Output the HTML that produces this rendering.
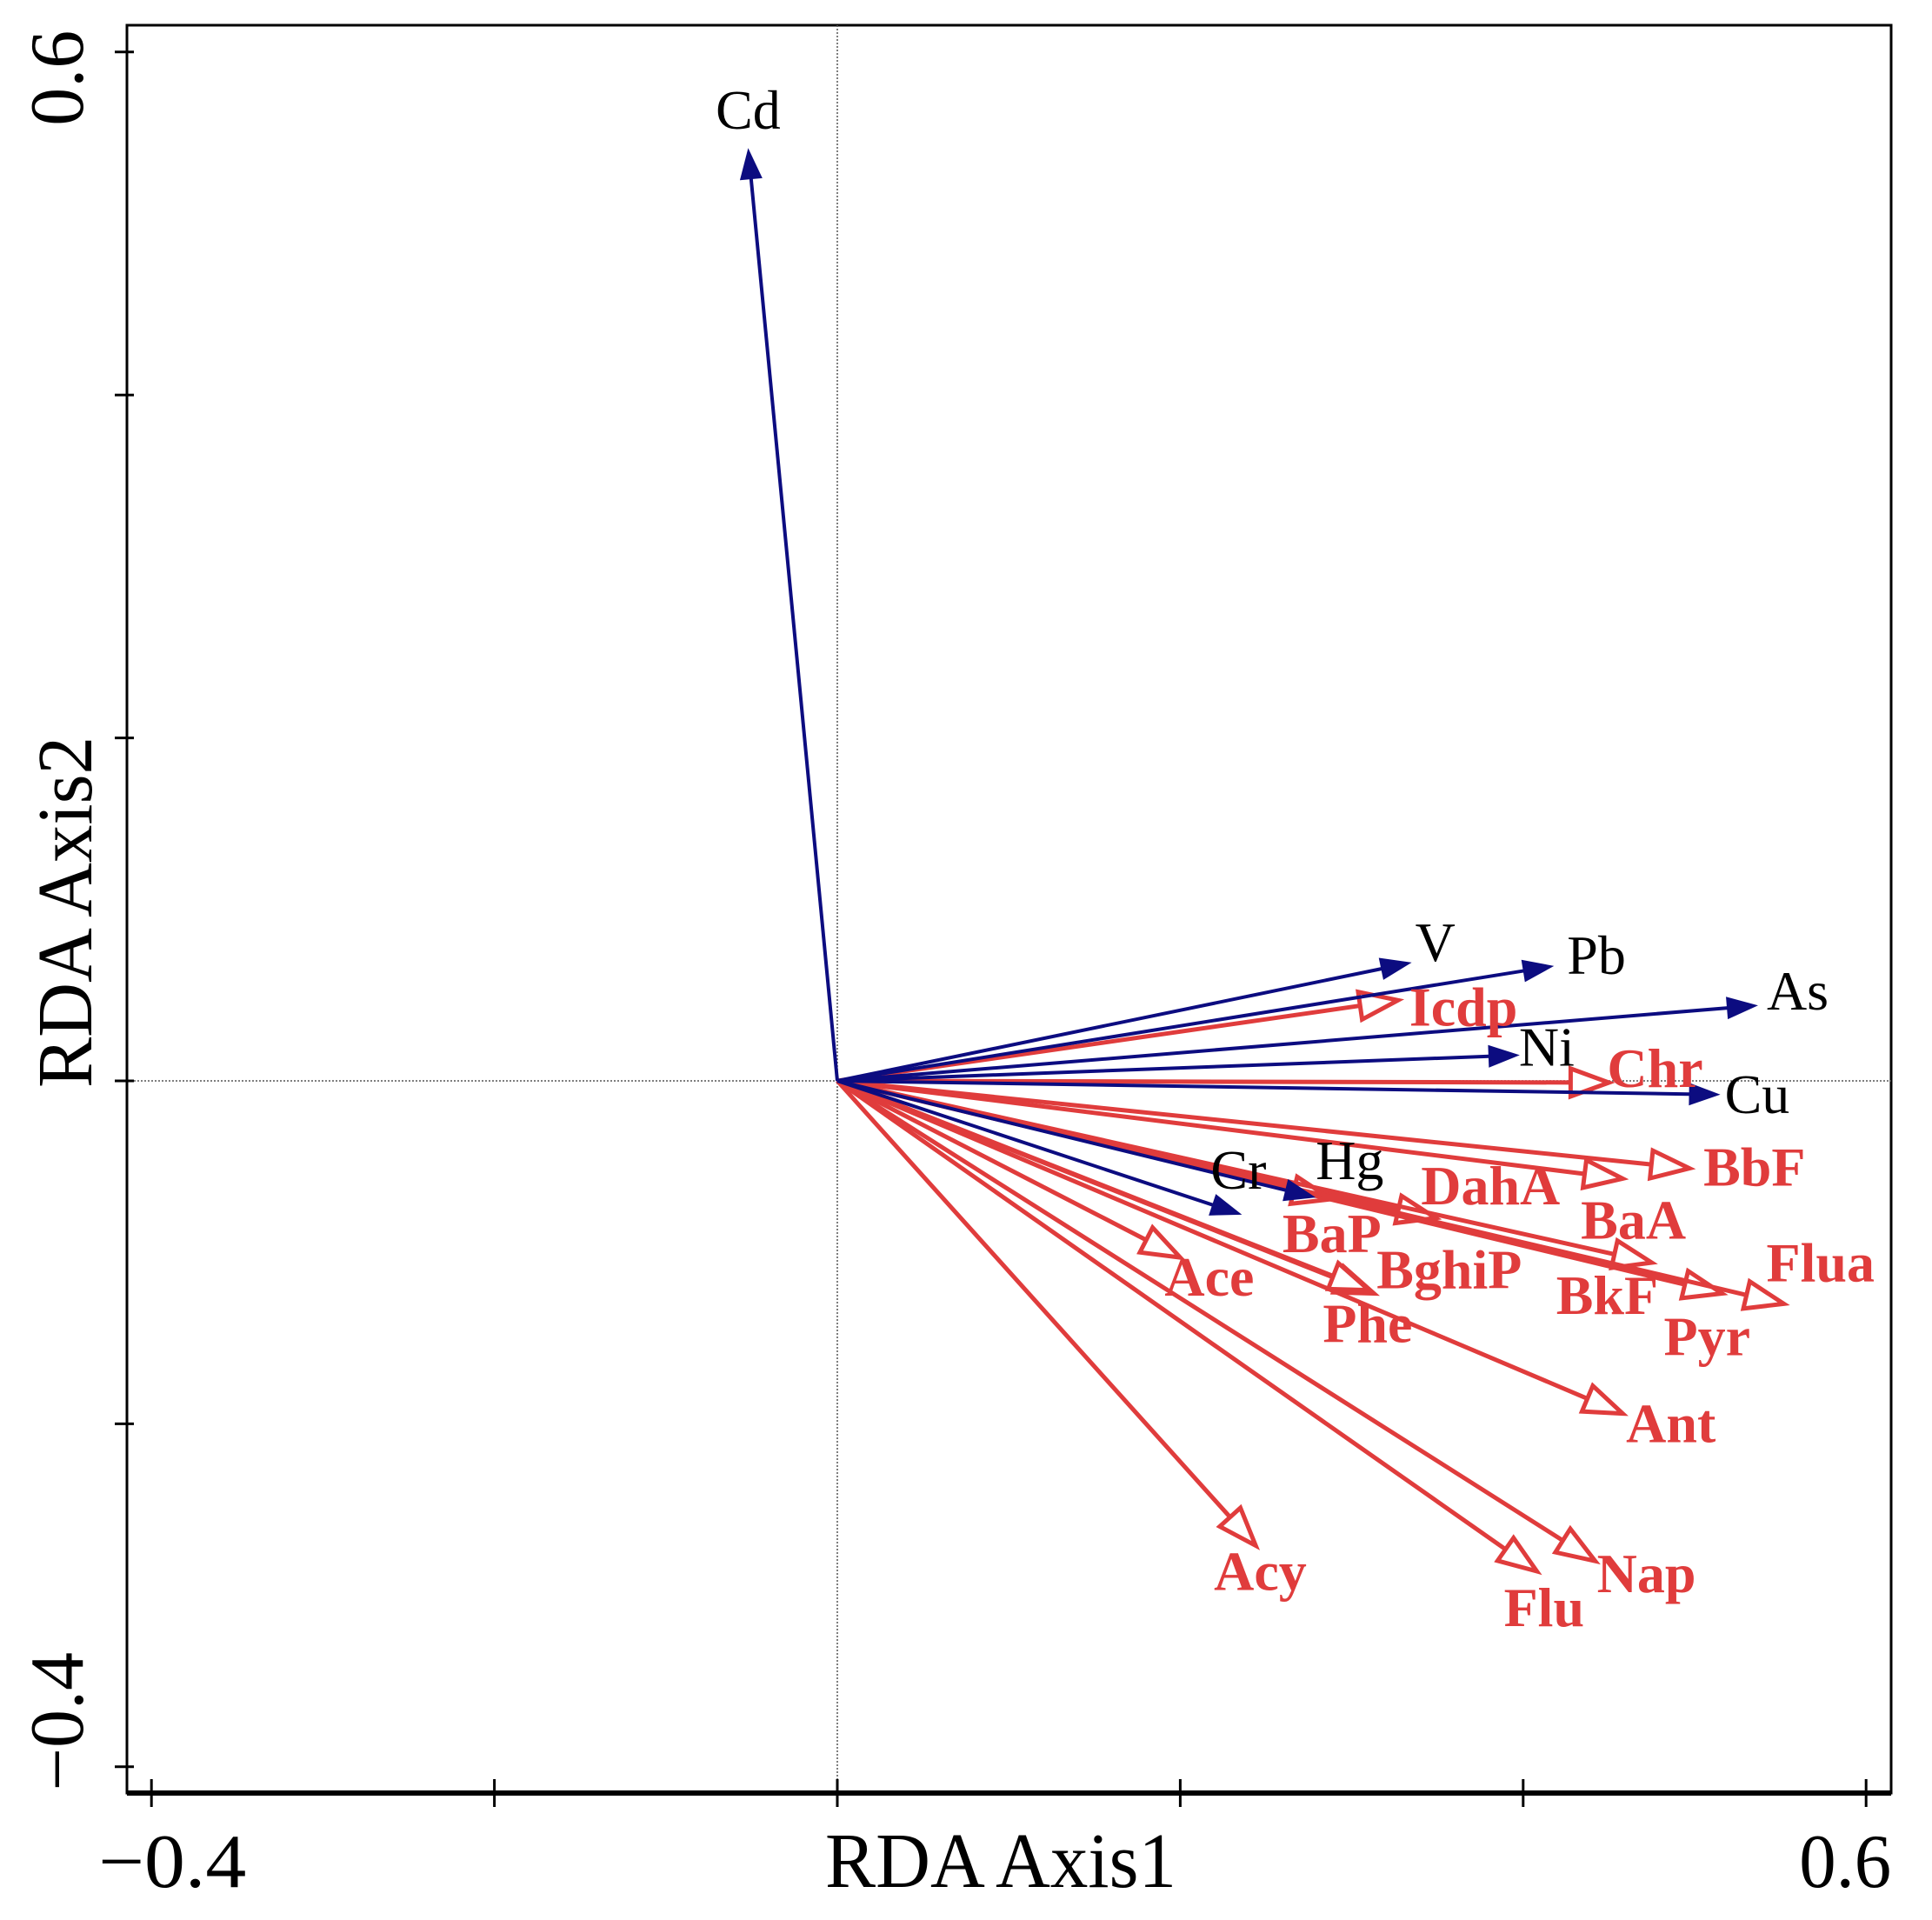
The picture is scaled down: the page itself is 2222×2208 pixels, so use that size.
<!DOCTYPE html>
<html><head><meta charset="utf-8"><style>
html,body{margin:0;padding:0;background:#fff;}
svg{display:block;}
</style></head><body>
<svg id="chart" width="2222" height="2208" viewBox="0 0 2222 2208" xmlns="http://www.w3.org/2000/svg">
<rect x="0" y="0" width="2222" height="2208" fill="#fff"/>
<g id="frame"></g>
<g id="arrows"></g>
<g id="labels"></g>
</svg>
<script>
// ---- data ----
const metalNames = ["Cd","V","Pb","As","Ni","Cu","Cr","Hg"];
const metalX = [-0.052,0.335,0.418,0.537,0.398,0.515,0.236,0.279];
const metalY = [0.544,0.069,0.067,0.044,0.015,-0.008,-0.078,-0.068];
const pahNames = ["Icdp","Chr","BbF","BaA","DahA","BaP","BkF","Pyr","Flua","BghiP","Phe","Ace","Ant","Acy","Flu","Nap"];
const pahX = [0.327,0.450,0.497,0.458,0.349,0.288,0.475,0.516,0.552,0.313,0.310,0.200,0.458,0.244,0.408,0.442];
const pahY = [0.047,-0.001,-0.051,-0.057,-0.080,-0.069,-0.106,-0.124,-0.130,-0.124,-0.122,-0.103,-0.194,-0.271,-0.286,-0.280];
const xTicks = [-0.4,-0.2,0,0.2,0.4,0.6];
const yTicks = [-0.4,-0.2,0,0.2,0.4,0.6];
const xTickLabels = ["\u22120.4","0.6"];
const yTickLabels = ["\u22120.4","0.6"];

// label offsets (layout only, px relative to arrow tip)
const metalOff = [[0,-22],[4,-2],[15,9],[10,5],[-1,12],[5,21],[-36,-30],[0,-21]];
const pahOff = [[13,29],[-2,5],[16,20],[-48,69],[-17,-16],[-56,61],[-110,59],[-67,71],[-20,-26],[3,-6],[-53,60],[-18,44],[4,33],[-48,51],[-38,63],[2,36]];

// ---- axes ----
const L=146,R=2175,T=29,B=2062;
const X0=963,Y0=1243,U=1972;
const sx=v=>X0+v*U, sy=v=>Y0-v*U;
const NS="http://www.w3.org/2000/svg";
function mk(tag,attrs,parent){const e=document.createElementNS(NS,tag);for(const k in attrs)e.setAttribute(k,attrs[k]);parent.appendChild(e);return e;}
const frame=document.getElementById('frame');
const arrows=document.getElementById('arrows');
const labels=document.getElementById('labels');

let el=mk('rect',{x:L,y:T,width:R-L,height:B-T,fill:'none',stroke:'#000','stroke-width':3},frame);


el=mk('line',{x1:L,y1:B,x2:R,y2:B,stroke:'#000','stroke-width':6},frame);


el=mk('line',{x1:sx(0),y1:T,x2:sx(0),y2:B,stroke:'#555','stroke-width':1.5,'stroke-dasharray':'2,2'},frame);


el=mk('line',{x1:L,y1:sy(0),x2:R,y2:sy(0),stroke:'#555','stroke-width':1.5,'stroke-dasharray':'2,2'},frame);



xTicks.forEach(v=>{
  const t=mk('line',{x1:sx(v),y1:B-16,x2:sx(v),y2:B+16,stroke:'#000','stroke-width':3},frame);
  
  
});
yTicks.forEach(v=>{
  const t=mk('line',{x1:L-14,y1:sy(v),x2:L+8,y2:sy(v),stroke:'#000','stroke-width':3},frame);
  
  
});
const tf='font-family:"Liberation Serif",serif;';
el=mk('text',{x:sx(xTicks[0])+24,y:2170,'text-anchor':'middle','font-size':88,style:tf,textLength:170,lengthAdjust:'spacingAndGlyphs'},frame);
el.textContent=xTickLabels[0];


el=mk('text',{x:sx(xTicks[5])-24,y:2170,'text-anchor':'middle','font-size':88,style:tf,textLength:106,lengthAdjust:'spacingAndGlyphs'},frame);
el.textContent=xTickLabels[1];


el=mk('text',{x:0,y:0,'text-anchor':'middle','font-size':88,style:tf,transform:`translate(95,${sy(yTicks[5])+30}) rotate(-90)`},frame);
el.textContent=yTickLabels[1];


el=mk('text',{x:0,y:0,'text-anchor':'middle','font-size':88,style:tf,transform:`translate(95,${sy(yTicks[0])-52}) rotate(-90)`},frame);
el.textContent=yTickLabels[0];


el=mk('text',{x:1151,y:2170,'text-anchor':'middle','font-size':90,style:tf,textLength:404,lengthAdjust:'spacingAndGlyphs'},frame);
el.textContent='RDA Axis1';


el=mk('text',{x:0,y:0,'text-anchor':'middle','font-size':90,style:tf,textLength:404,lengthAdjust:'spacingAndGlyphs',transform:'translate(105,1049) rotate(-90)'},frame);
el.textContent='RDA Axis2';



function headPts(x,y,ang,len,hw){
  const c=Math.cos(ang),s=Math.sin(ang);
  const bx=x-c*len,by=y-s*len;
  return `${x},${y} ${bx-s*hw},${by+c*hw} ${bx+s*hw},${by-c*hw}`;
}
// PAH arrows (red, open heads)
pahNames.forEach((n,i)=>{
  const x=sx(pahX[i]),y=sy(pahY[i]);
  const ang=Math.atan2(y-Y0,x-X0);
  const len=44;
  const g=mk('g',{},arrows);
  
  
  mk('line',{x1:X0,y1:Y0,x2:x-Math.cos(ang)*len,y2:y-Math.sin(ang)*len,stroke:'#e03c3c','stroke-width':5},g);
  mk('polygon',{points:headPts(x,y,ang,len,16),fill:'#fff',stroke:'#e03c3c','stroke-width':5,'stroke-linejoin':'miter'},g);
  const o=pahOff[i];
  const t=mk('text',{x:x+o[0],y:y+o[1],'font-size':64,'font-weight':'bold',fill:'#e03c3c',style:tf},labels);
  t.textContent=n;
  
  
});
// metal arrows (navy, filled heads)
metalNames.forEach((n,i)=>{
  const x=sx(metalX[i]),y=sy(metalY[i]);
  const ang=Math.atan2(y-Y0,x-X0);
  const len=36;
  const g=mk('g',{},arrows);
  
  
  mk('line',{x1:X0,y1:Y0,x2:x-Math.cos(ang)*len*0.8,y2:y-Math.sin(ang)*len*0.8,stroke:'#0c0c80','stroke-width':4},g);
  mk('polygon',{points:headPts(x,y,ang,len,13),fill:'#0c0c80'},g);
  const o=metalOff[i];
  const t=mk('text',{x:x+o[0],y:y+o[1],'font-size':64,fill:'#000',style:tf,'text-anchor':i===0?'middle':'start'},labels);
  t.textContent=n;
  
  
});
</script>
</body></html>
